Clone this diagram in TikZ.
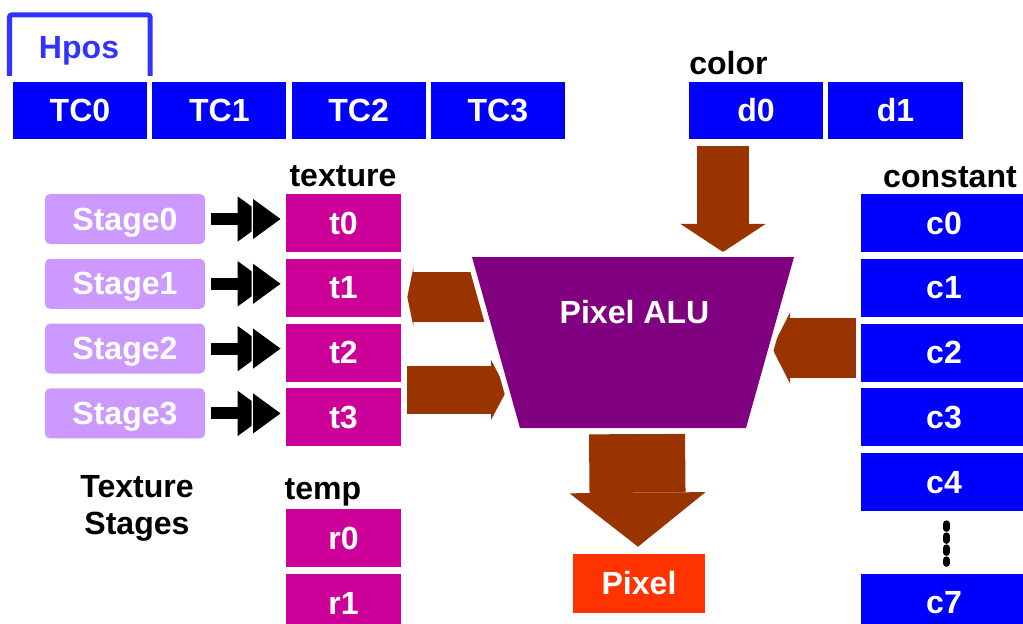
\documentclass[tikz,border=0pt]{standalone}
\usepackage{fontspec}
\setmainfont{Liberation Sans}
\usetikzlibrary{calc, arrows.meta}

\begin{document}
\begin{tikzpicture}[x=0.025cm, y=-0.025cm, >=Stealth]
  % Clip the scene to the page, nothing outside
  \clip (0,0) rectangle (1023,623);

  % ==========================================
  % 1. COLOURS & STYLES
  % ==========================================
  \definecolor{regBlue}{RGB}{0,0,255}      % register files
  \definecolor{hposBlue}{RGB}{51,51,255}   % Hpos tab
  \definecolor{texMagenta}{RGB}{204,0,153} % texture / temp registers
  \definecolor{stageLilac}{RGB}{204,153,255}
  \definecolor{aluPurple}{RGB}{128,0,128}
  \definecolor{flowBrown}{RGB}{153,51,0}   % data flow arrows
  \definecolor{pixelRed}{RGB}{255,51,0}

  \tikzset{
    bigfont/.style={font=\fontsize{22.8pt}{26.3pt}\selectfont\bfseries},
    labeltext/.style={bigfont, inner sep=0pt},
    regbox/.style={bigfont, text=white, inner sep=0pt, minimum height=1.45cm},
    tcbox/.style={regbox, fill=regBlue, minimum width=3.35cm, minimum height=1.425cm},
    texbox/.style={regbox, fill=texMagenta, minimum width=2.875cm},
    constbox/.style={regbox, fill=regBlue, minimum width=4.15cm},
    stagebox/.style={regbox, fill=stageLilac, rounded corners=0.125cm,
      minimum width=4cm, minimum height=1.25cm, text depth=0pt},
    pixbox/.style={regbox, fill=pixelRed, minimum width=3.3cm, minimum height=1.475cm},
    tabline/.style={draw=hposBlue, line width=0.125cm, rounded corners=0.05cm},
    feed/.style={line width=0.3cm, shorten <=0.15cm, shorten >=0.075cm,
      -{Triangle[length=0.775cm, width=1.125cm, sep=-0.425cm, line width=0.5pt]
        Triangle[length=0.775cm, width=1.125cm, color=white, fill=black, line width=0.8pt]}},
    flow/.style n args={3}{draw=flowBrown, line width=#1,
      -{Triangle[width=#2, length=#3, line width=0pt]}},
    alushape/.style={preaction={draw=white, line width=0.275cm}, fill=aluPurple},
    dotline/.style={line width=0.175cm, line cap=round, dash pattern=on 0.1125cm off 0.1875cm,
      shorten <=0.31cm, shorten >=0.26cm}
  }

  % ==========================================
  % 2. TOP ROW: Hpos, TC0..TC3, color d0 d1
  % ==========================================
  \draw[tabline] (9.5,76) |- (150,15) -- (150,76);
  \node[labeltext, text=hposBlue, anchor=base] (hpos) at (79,59) {Hpos};

  \foreach \i in {0,...,3} {
    \node[tcbox] (tc\i) at ({80+139.3*\i},110.5) {TC\i};
  }

  \node[labeltext, anchor=base west] (colorLbl) at (689,75) {color};
  \node[tcbox] (d0) at (756,110.5) {d0};
  \node[tcbox] (d1) at (895.5,110.5) {d1};

  % ==========================================
  % 3. TEXTURE STAGES & TEXTURE REGISTERS
  % ==========================================
  \node[labeltext, anchor=base] (texLbl) at (343,186) {texture};
  \foreach \i in {0,...,3} {
    \node[texbox] (t\i) at (343.5,{223+64.8*\i}) {t\i};
    \node[stagebox] (s\i) at (125,{219+64.8*\i}) {Stage\i};
    \draw[feed] (s\i.east) -- (s\i.east -| t\i.west);
  }
  \node[labeltext, align=center, anchor=north] (stagesLbl) at (137,475) {Texture\\Stages};

  % temp registers
  \node[labeltext, anchor=base] (tempLbl) at (323,499) {temp};
  \node[texbox] (r0) at (343.5,538) {r0};
  \node[texbox] (r1) at (343.5,603) {r1};

  % ==========================================
  % 4. CONSTANT REGISTERS
  % ==========================================
  \node[labeltext, anchor=base] (constLbl) at (950,187) {constant};
  \foreach \i in {0,...,4} {
    \node[constbox] (c\i) at (944,{223+64.8*\i}) {c\i};
  }
  \node[constbox] (c7) at (944,603) {c7};
  \draw[dotline] ([xshift=0.06cm]c4.south) -- ([xshift=0.06cm]c7.north);

  % ==========================================
  % 5. PIXEL ALU AND DATA FLOW
  % ==========================================
  \coordinate (aluNW) at (472,257);
  \coordinate (aluNE) at (794,257);
  \coordinate (aluSE) at (746,428);
  \coordinate (aluSW) at (520,428);

  \coordinate (colorIn) at (723,252);
  \coordinate (texIn) at (507,390);
  \coordinate (texOut) at (500,297);
  \coordinate (constIn) at (772,348);
  \coordinate (aluOut) at (637,434);

  \node[pixbox] (pix) at (639,583.5) {Pixel};

  % arrows first, the ALU covers their inner ends
  \draw[flow={1.3cm}{2.125cm}{0.7cm}] ([shift={(-33,7)}]d0.south) -- (colorIn);
  \draw[flow={1.25cm}{1.45cm}{0.15cm}] (texOut) -- ($(texOut -| t1.east)+(6,0)$);
  \draw[flow={1.2cm}{1.5cm}{0.4cm}] ($(texIn -| t2.east)+(6,0)$) -- (texIn);
  \draw[flow={1.5cm}{1.775cm}{0.45cm}] ($(constIn -| c2.west)+(-5,0)$) -- (constIn);
  \draw[flow={2.4cm}{3.4cm}{1.35cm}] (aluOut) -- ([shift={(-1,-7)}]pix.north);

  \path[alushape] (aluNW) -- (aluNE) -- (aluSE) -- (aluSW) -- cycle;
  \node[labeltext, text=white, anchor=base] (alu) at (634.5,323) {Pixel ALU};

\end{tikzpicture}
\end{document}
